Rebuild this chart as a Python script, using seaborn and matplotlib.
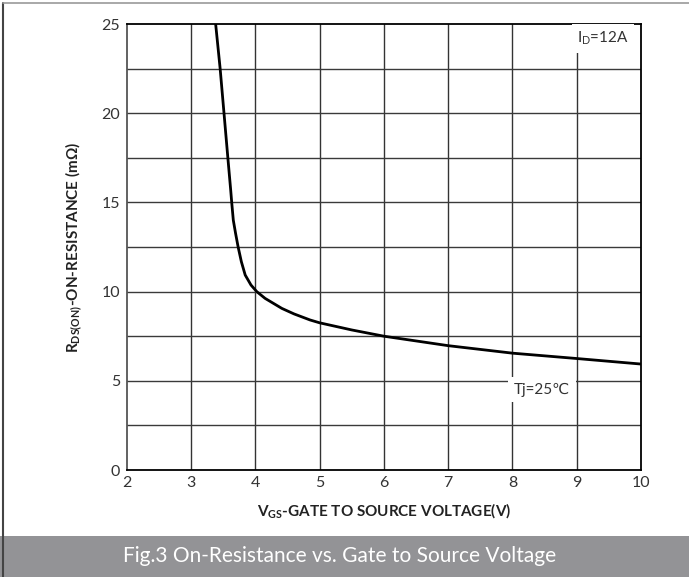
import matplotlib
matplotlib.use("Agg")
import matplotlib.pyplot as plt
import seaborn as sns
import pandas as pd
from matplotlib.lines import Line2D
from matplotlib.patches import Rectangle

# curve (VGS in V, RDS(on) in mOhm)
vgs = [3.38, 3.45, 3.51, 3.57, 3.614, 3.63, 3.655, 3.69, 3.73, 3.78, 3.84,
       3.93, 4.02, 4.15, 4.41, 4.60, 4.85, 5.00, 5.50, 6.00, 7.00, 8.00,
       9.00, 10.00]
rds = [25.0, 22.5, 20.0, 17.5, 15.7, 15.0, 14.0, 13.27, 12.5, 11.68, 10.93,
       10.37, 10.0, 9.62, 9.06, 8.75, 8.41, 8.25, 7.85, 7.5, 6.97, 6.55,
       6.25, 5.94]

x_ticks = [2, 3, 4, 5, 6, 7, 8, 9, 10]
y_ticks = [0, 5, 10, 15, 20, 25]
y_grid = [2.5, 5, 7.5, 10, 12.5, 15, 17.5, 20, 22.5]

df = pd.DataFrame({"vgs": vgs, "rds": rds})

sns.set_style("white")
plt.rcParams["font.family"] = ["Lato", "DejaVu Sans"]
plt.rcParams["mathtext.fontset"] = "custom"
plt.rcParams["mathtext.rm"] = "Lato"
plt.rcParams["mathtext.bf"] = "Lato:bold"

fig = plt.figure(figsize=(6.89, 5.77), dpi=100)
ax = fig.add_axes([0.1843, 0.1854, 0.746, 0.773])

# grid
for xv in x_ticks[1:-1]:
    ax.axvline(xv, color="#333333", lw=1.0, zorder=1)
for yv in y_grid:
    ax.axhline(yv, color="#3a3a3a", lw=1.0, zorder=1)

sns.lineplot(data=df, x="vgs", y="rds", ax=ax, color="black", lw=2.0,
             sort=False, zorder=3, solid_joinstyle="round",
             solid_capstyle="round")

ax.set_xlim(2, 10)
ax.set_ylim(0, 25)
ax.set_xticks(x_ticks)
ax.set_yticks(y_ticks)
ax.tick_params(axis="both", length=0, labelsize=11.5, colors="#333333")
ax.tick_params(axis="x", pad=4)
ax.tick_params(axis="y", pad=5)

for side in ["top", "right", "bottom"]:
    ax.spines[side].set_color("black")
    ax.spines[side].set_linewidth(1.3)
ax.spines["left"].set_color("#555555")
ax.spines["left"].set_linewidth(1.3)

ax.set_xlabel(r"V$_{\mathbf{GS}}$-GATE TO SOURCE VOLTAGE(V)",
              fontsize=11, fontweight="bold", color="#222222", labelpad=9)
ax.set_ylabel(r"R$_{\mathbf{DS(ON)}}$-ON-RESISTANCE (mΩ)",
              fontsize=11, fontweight="bold", color="#222222", labelpad=12)

ax.text(9.41, 24.2, r"I$_{\mathrm{D}}$=12A", fontsize=11, color="#333333",
        ha="center", va="center", zorder=4,
        bbox=dict(facecolor="white", edgecolor="none", pad=4))
ax.text(8.46, 4.5, "Tj=25℃", fontsize=11, color="#333333",
        ha="center", va="center", zorder=4,
        bbox=dict(facecolor="white", edgecolor="none", pad=4))

# caption banner and frame
fig.add_artist(Rectangle((0, 0), 1, 0.0712, transform=fig.transFigure,
                         facecolor="#939396", edgecolor="none"))
fig.text(0.178, 0.036, "Fig.3 On-Resistance vs. Gate to Source Voltage",
         color="white", fontsize=15, va="center", ha="left")
fig.add_artist(Line2D([0.005, 0.005], [0, 0.995], transform=fig.transFigure,
                      color="#444444", lw=1.5))
fig.add_artist(Line2D([0.005, 1], [0.995, 0.995], transform=fig.transFigure,
                      color="#999999", lw=1.2))

fig.savefig("out.png", dpi=100)
